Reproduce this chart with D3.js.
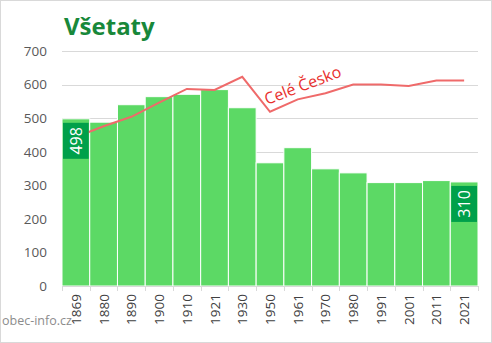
<!DOCTYPE html>
<html><head><meta charset="utf-8">
<script src="https://cdn.jsdelivr.net/npm/d3@7"></script>
<style>body{margin:0;background:#fff}svg{display:block}</style>
</head><body>
<script>
const years = ["1869","1880","1890","1900","1910","1921","1930","1950","1961","1970","1980","1991","2001","2011","2021"];
const population = [498,488,540,564,571,585,531,367,412,349,337,308,308,314,310];
const czechia = [444,476,504,546,587,584,623,519,556,574,600,600,596,612,612];
const yTicks = [0,100,200,300,400,500,600,700];
const labelled = ["1869","2021"];

(function(){
const W=492,H=343;
const svg=d3.select("body").append("svg").attr("width",W).attr("height",H);
svg.append("rect").attr("x",0.5).attr("y",0.5).attr("width",W-1).attr("height",H-1).attr("fill","#fff").attr("stroke","#d9d9d9");

const mL=62,mR=478,mT=51,mB=286;
const x=d3.scaleBand().domain(years).range([mL,mR]).padding(0);
const y=d3.scaleLinear().domain([0,700]).range([mB,mT]);
const font="'Open Sans', 'DejaVu Sans', sans-serif";

// grid
svg.append("g").selectAll("line").data(yTicks.filter(d=>d>0)).join("line")
  .attr("x1",mL).attr("x2",mR).attr("y1",d=>Math.round(y(d))+0.5).attr("y2",d=>Math.round(y(d))+0.5)
  .attr("stroke","#d9d9d9");

// y axis labels
const ya=svg.append("g").attr("transform",`translate(${mL-15},0)`)
  .call(d3.axisLeft(y).tickValues(yTicks).tickSize(0).tickPadding(0));
ya.select(".domain").remove();
ya.selectAll("text").attr("font-family",font).attr("font-size",13.5).attr("fill","#595959");

// bars
svg.append("g").selectAll("rect").data(years).join("rect")
  .attr("x",d=>x(d)).attr("width",x.bandwidth())
  .attr("y",(d,i)=>y(population[i])).attr("height",(d,i)=>y(0)-y(population[i]))
  .attr("fill","#5cd965").attr("stroke","#ffffff").attr("stroke-width",1);

// x axis
const xa=svg.append("g").attr("transform",`translate(0,${mB})`)
  .call(d3.axisBottom(x).tickSize(0));
xa.select(".domain").attr("stroke","#d9d9d9");
xa.selectAll("text").remove();
svg.append("g").selectAll("line").data(years.concat(["end"])).join("line")
  .attr("x1",(d,i)=>Math.round(mL+i*x.bandwidth())+0.5).attr("x2",(d,i)=>Math.round(mL+i*x.bandwidth())+0.5)
  .attr("y1",mB).attr("y2",mB+5).attr("stroke","#d9d9d9");
svg.append("g").selectAll("text").data(years).join("text")
  .attr("transform",d=>`translate(${x(d)+x.bandwidth()/2+5},${mB+8}) rotate(-90)`)
  .attr("text-anchor","end").attr("font-family",font).attr("font-size",13.5).attr("fill","#404040")
  .text(d=>d);

// Czech line
const line=d3.line().x((d,i)=>x(years[i])+x.bandwidth()/2).y(d=>y(d));
svg.append("path").datum(czechia).attr("d",line).attr("fill","none").attr("stroke","#ef6a6a").attr("stroke-width",2);

// data labels
labelled.forEach(yr=>{
  const i=years.indexOf(yr);
  const bx=x(yr)+1,bw=x.bandwidth()-2,by=y(population[i])+4,bh=36;
  svg.append("rect").attr("x",bx).attr("y",by).attr("width",bw).attr("height",bh).attr("fill","#00a04a");
  svg.append("text").attr("transform",`translate(${bx+bw/2+6},${by+bh/2}) rotate(-90)`)
    .attr("text-anchor","middle").attr("font-family",font).attr("font-size",16).attr("fill","#fff")
    .text(population[i]);
});

// Line label
svg.append("text").attr("transform","translate(267,105) rotate(-21)")
  .attr("font-family",font).attr("font-size",16).attr("fill","#e8302e").text("Celé Česko");

// title
svg.append("text").attr("x",64).attr("y",35).attr("font-family",font).attr("font-weight","bold")
  .attr("font-size",24).attr("fill","#18883a").text("Všetaty");

// source
svg.append("text").attr("x",2).attr("y",325).attr("font-family",font).attr("font-size",12.5)
  .attr("fill","#8c8c8c").text("obec-info.cz");
})();
</script>
</body></html>
